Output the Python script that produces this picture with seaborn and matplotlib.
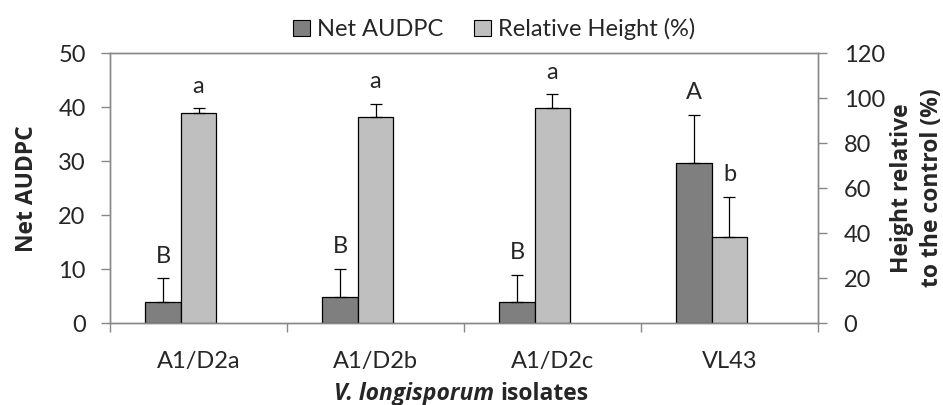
import matplotlib
matplotlib.use("Agg")
import matplotlib.pyplot as plt
from matplotlib.patches import Patch
from matplotlib.ticker import FixedLocator
from matplotlib.offsetbox import TextArea, HPacker, AnchoredOffsetbox
import numpy as np
import pandas as pd
import seaborn as sns

# Data
isolates = ["A1/D2a", "A1/D2b", "A1/D2c", "VL43"]
audpc_mean = [4.0, 4.9, 3.9, 29.7]
audpc_err = [4.3, 5.2, 5.1, 8.9]
audpc_letters = ["B", "B", "B", "A"]
height_mean = [93.5, 91.5, 95.7, 38.4]
height_err = [2.0, 6.1, 5.9, 17.6]
height_letters = ["a", "a", "a", "b"]

series_order = ["Net AUDPC", "Relative Height (%)", "spacer"]
dark, light = "#7f7f7f", "#bfbfbf"
spine_col = "#888888"
FS = 17
BOLD = dict(family=["Open Sans", "DejaVu Sans"], fontweight="bold", fontsize=16.5)

sns.set_theme(style="white")
plt.rcParams["font.family"] = ["Lato", "DejaVu Sans"]

df_a = pd.DataFrame({"isolate": isolates, "value": audpc_mean, "series": "Net AUDPC"})
df_h = pd.DataFrame({"isolate": isolates, "value": height_mean, "series": "Relative Height (%)"})
pal = {"Net AUDPC": dark, "Relative Height (%)": light, "spacer": "white"}

fig = plt.figure(figsize=(9.43, 4.05), dpi=100)
ax = fig.add_axes([0.1167, 0.2017, 0.7507, 0.6673])
ax2 = ax.twinx()

# Each isolate gets three slots: AUDPC (left), height (centre), empty (right)
for a, d in ((ax, df_a), (ax2, df_h)):
    sns.barplot(data=d, x="isolate", y="value", hue="series", hue_order=series_order,
                palette=pal, width=0.6, dodge=True, errorbar=None,
                edgecolor="black", linewidth=0.9, legend=False, ax=a, order=isolates)

def bar_centers(axis):
    pats = [p for p in axis.patches if p.get_height() > 0]
    pats.sort(key=lambda p: p.get_x())
    return [p.get_x() + p.get_width() / 2 for p in pats]

xa = bar_centers(ax)
xh = bar_centers(ax2)

ax.errorbar(xa, audpc_mean, yerr=[np.zeros(4), audpc_err], fmt="none",
            ecolor="black", elinewidth=0.9, capsize=4, capthick=0.9)
ax2.errorbar(xh, height_mean, yerr=[np.zeros(4), height_err], fmt="none",
             ecolor="black", elinewidth=0.9, capsize=4, capthick=0.9)

for x, m, e, t in zip(xa, audpc_mean, audpc_err, audpc_letters):
    ax.annotate(t, (x, m + e), xytext=(0, 16), textcoords="offset points",
                ha="center", va="center", fontsize=FS)
for x, m, e, t in zip(xh, height_mean, height_err, height_letters):
    ax2.annotate(t, (x, m + e), xytext=(0, 16), textcoords="offset points",
                 ha="center", va="center", fontsize=FS)

ax.set_xlim(-0.5, 3.5)
ax.set_ylim(0, 50)
ax2.set_ylim(0, 120)
ax.set_yticks(range(0, 51, 10))
ax2.set_yticks(range(0, 121, 20))

ax.xaxis.set_minor_locator(FixedLocator([-0.5, 0.5, 1.5, 2.5, 3.5]))
ax.tick_params(axis="x", which="major", length=0, labelsize=FS, pad=20)
ax.tick_params(axis="x", which="minor", length=6.5, color=spine_col, width=1, bottom=True)
ax.tick_params(axis="y", length=6.5, color=spine_col, width=1, labelsize=FS, left=True, pad=11)
ax2.tick_params(axis="y", length=6.5, color=spine_col, width=1, labelsize=FS, right=True, pad=12)

for a in (ax, ax2):
    for s in a.spines.values():
        s.set_color(spine_col)
        s.set_linewidth(1)
    a.grid(False)

ax.set_xlabel("")
ax.set_ylabel("Net AUDPC", labelpad=14, **BOLD)
ax2.set_ylabel("Height relative\nto the control (%)", labelpad=4, linespacing=1.3, **BOLD)

# x-axis title: italic species name followed by upright word, both bold
xlab = HPacker(children=[
    TextArea("V. longisporum", textprops=dict(BOLD, fontstyle="italic")),
    TextArea("isolates", textprops=BOLD),
], sep=5, align="baseline", pad=0)
fig.add_artist(AnchoredOffsetbox(loc="center", child=xlab, frameon=False, pad=0,
                                 bbox_to_anchor=(0.489, 0.028),
                                 bbox_transform=fig.transFigure))

handles = [Patch(facecolor=dark, edgecolor="black", linewidth=0.8, label="Net AUDPC"),
           Patch(facecolor=light, edgecolor="black", linewidth=0.8, label="Relative Height (%)")]
fig.legend(handles=handles, loc="center", bbox_to_anchor=(0.524, 0.928), ncol=2,
           frameon=False, fontsize=FS, handlelength=0.7, handleheight=0.7,
           handletextpad=0.3, columnspacing=1.3, borderpad=0)

fig.savefig("out.png", dpi=100)
